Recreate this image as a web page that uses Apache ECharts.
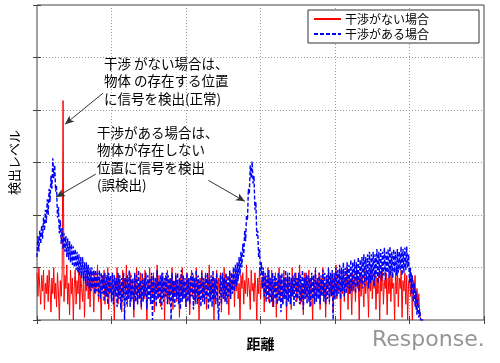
<!DOCTYPE html>
<html><head><meta charset="utf-8">
<script src="https://cdn.jsdelivr.net/npm/echarts@6/dist/echarts.min.js"></script>
<style>html,body{margin:0;padding:0;background:#fff}#c{width:500px;height:363px}</style>
</head><body><div id="c"></div>
<script>
// sample spacing along distance axis (grid units)
const step = 0.0125;
const seriesNames = ['干渉がない場合', '干渉がある場合'];
const noInterference = [
0.9,0.45,1.0,0.6,0.3,0.85,0.55,0.95,0.2,0.7,0.5,0.85,0.35,0.95,0.6,0.15,0.8,0.5,1.0,0.4,
0.7,0.25,0.9,0.55,0.0,0.75,0.45,0.9,4.18,0.35,0.85,0.6,1.05,0.3,0.7,0.1,0.95,0.5,0.8,0.0,
0.65,0.95,0.3,0.75,0.5,1.0,0.2,0.85,0.6,0.35,0.9,0.05,0.7,0.55,1.0,0.4,0.8,0.25,0.95,0.6,
0.75,0.15,0.9,0.5,0.7,1.05,0.35,0.8,0.55,0.0,0.85,0.6,0.95,0.3,0.7,0.45,1.0,0.2,0.8,0.65,
0.4,0.9,0.55,0.0,0.75,0.6,1.0,0.3,0.85,0.5,0.7,0.15,0.95,0.45,0.8,0.6,1.05,0.25,0.7,0.5,
0.9,0.35,0.75,0.6,0.05,0.85,0.5,1.0,0.3,0.7,0.55,0.9,0.2,0.8,0.65,0.4,0.95,0.55,0.0,0.75,
0.6,1.0,0.35,0.8,0.5,0.9,0.15,0.7,0.55,1.05,0.4,0.85,0.6,0.25,0.9,0.5,0.75,0.0,0.85,0.45,
0.95,0.6,0.3,0.8,0.55,1.0,0.2,0.75,0.5,0.9,0.35,0.7,0.6,0.05,0.85,0.5,1.0,0.4,0.75,0.6,
0.25,0.9,0.55,0.8,0.1,0.7,0.95,0.45,0.85,0.6,0.3,1.0,0.5,0.75,0.0,0.8,0.6,0.95,0.35,0.7,
0.55,0.9,0.2,0.8,0.6,1.05,0.4,0.7,0.5,0.85,0.0,0.75,0.6,0.95,0.3,0.8,0.5,0.9,0.15,0.7,
0.6,1.0,0.35,0.85,0.55,0.7,0.1,0.9,0.5,0.75,0.6,1.0,0.25,0.8,0.55,0.95,0.4,0.7,0.0,0.85,
0.6,0.9,0.3,0.75,0.5,1.05,0.45,0.8,0.6,0.2,0.95,0.55,0.7,0.35,0.9,0.6,0.0,0.8,0.5,1.0,
0.4,0.75,0.6,0.9,0.15,0.85,0.5,0.7,1.0,0.35,0.8,0.55,0.95,0.25,0.7,0.6,0.9,0.05,0.75,0.5,
1.0,0.4,0.85,0.6,0.3,0.95,0.55,0.75,0.0,0.9,0.5,0.8,0.65,0.2,1.0,0.45,0.7,0.6,0.9,0.35,
0.8,0.55,1.05,0.3,0.7,0.6,0.1,0.9,0.5,0.85,0.4,0.75,0.95,0.25,0.8,0.6,0.0,0.85,0.5,1.0,
0.35,0.75,0.6,0.9,0.2,0.8,0.55,1.0,0.45,0.7,0.05,0.85,0.6,0.95,0.3,0.75,0.5,0.9,0.15,0.8,
0.6,1.05,0.4,0.7,0.55,0.9,0.0,0.8,0.5,0.95,0.35,0.75,0.6,1.0,0.2,0.85,0.5,0.7,0.1,0.9,
0.55,0.8,0.35,1.0,0.6,0.75,0.0,0.9,0.45,0.85,0.6,0.25,0.95,0.5,0.8,0.65,0.05,0.9,0.55,1.0,
0.4,0.75,0.6,0.95,0.2,0.8,0.5,0.9,0.0,0.85,0.55,1.0,0.3,0.75,0.6,0.9,0.1,0.8,0.5,0.95,
0.35,0.85,0.6,0.7,0.0,0.9,0.5,1.0,0.25,0.8,0.6,0.95,0.05,0.75,0.55,0.9,0.3,0.85,0.0,0.7,
0.8,0.45,0.9,0.0,0.75,0.55,0.85,0.2,0.6,0.3,0.5,0.1,0.0,0.0,0.0,0.0,0.0
];
const withInterference = [
1.2,1.6,1.3,1.7,1.45,1.8,1.55,1.95,1.7,2.1,1.85,2.3,2.0,2.5,2.25,2.75,2.5,3.08,2.7,2.95,
2.45,2.55,1.95,2.15,1.65,1.9,1.45,1.75,1.35,1.65,1.3,1.6,1.2,1.55,1.15,1.5,1.1,1.45,1.05,1.4,
1.0,1.35,0.95,1.3,0.9,1.25,0.85,1.2,0.8,1.2,0.75,1.1,0.7,1.1,0.65,1.05,0.6,1.0,0.55,1.0,
0.6,0.95,0.5,0.95,0.55,0.9,0.45,0.95,0.4,0.9,0.5,0.85,0.35,0.9,0.45,0.85,0.3,0.9,0.5,0.85,
0.35,0.9,0.3,0.85,0.45,0.8,0.25,0.9,0.4,0.85,0.2,0.8,0.35,0.9,0.0,0.8,0.3,0.85,0.4,0.95,
0.25,0.85,0.4,0.8,0.2,0.9,0.35,0.85,0.3,0.95,0.4,0.75,0.25,0.9,0.35,0.8,0.45,0.9,0.2,0.85,
0.4,0.8,0.3,0.9,0.0,0.85,0.35,0.8,0.25,0.95,0.4,0.75,0.3,0.85,0.2,0.9,0.35,0.8,0.45,0.9,
0.3,0.85,0.4,0.8,0.0,0.9,0.35,0.75,0.25,0.85,0.4,0.9,0.3,0.8,0.2,0.95,0.35,0.85,0.4,0.8,
0.25,0.9,0.35,0.8,0.3,0.85,0.45,0.9,0.2,0.8,0.35,0.95,0.3,0.85,0.4,0.75,0.25,0.9,0.35,0.8,
0.3,0.85,0.4,0.9,0.2,0.8,0.35,0.85,0.25,0.95,0.4,0.8,0.3,0.9,0.35,0.0,0.45,0.85,0.3,0.9,
0.4,0.8,0.35,0.9,0.3,0.85,0.45,0.95,0.4,0.9,0.5,1.0,0.55,1.05,0.65,1.1,0.75,1.2,0.85,1.3,
1.0,1.45,1.2,1.7,1.5,2.0,1.9,2.5,2.4,2.95,2.7,3.02,2.6,2.75,2.1,2.25,1.6,1.7,1.2,1.35,
0.85,1.1,0.6,1.0,0.45,0.9,0.35,0.85,0.4,0.95,0.3,0.8,0.35,0.9,0.25,0.85,0.4,0.8,0.3,0.9,
0.35,0.85,0.15,0.9,0.3,0.8,0.4,0.95,0.25,0.85,0.35,0.9,0.3,0.8,0.45,0.85,0.25,0.9,0.35,0.8,
0.4,0.9,0.3,0.85,0.35,0.95,0.2,0.8,0.4,0.9,0.3,0.85,0.35,0.8,0.25,0.9,0.4,0.85,0.3,0.95,
0.35,0.8,0.4,0.9,0.3,0.85,0.45,0.95,0.35,0.9,0.3,0.85,0.4,1.0,0.35,0.9,0.45,0.95,0.0,0.9,
0.4,1.0,0.45,0.95,0.5,1.05,0.4,1.0,0.55,1.1,0.45,1.0,0.5,1.1,0.6,1.05,0.5,1.15,0.55,1.1,
0.6,1.15,0.5,1.1,0.65,1.2,0.55,1.15,0.7,1.2,0.6,1.25,0.65,1.2,0.75,1.25,0.6,1.3,0.7,1.25,
0.75,1.3,0.65,1.25,0.8,1.35,0.7,1.3,0.8,1.35,0.75,1.3,0.85,1.38,0.75,1.3,0.9,1.35,0.8,1.4,
0.85,1.3,0.8,1.35,0.9,1.3,0.85,1.35,0.9,1.3,0.95,1.4,0.85,1.35,0.9,1.38,0.95,1.4,1.0,1.25,
0.7,1.0,0.5,0.85,0.35,0.7,0.25,0.55,0.1,0.4,0.05,0.2,0.0,0.0,0.0,0.0,0.0
];
const note1 = ['干渉 がない場合は、', '物体 の存在する位置', 'に信号を検出(正常)'];
const note2 = ['干渉がある場合は、', '物体が存在しない', '位置に信号を検出', '(誤検出)'];

const toPairs = arr => arr.map((v, i) => [+(i * step).toFixed(4), v]);
const FONT = '"Noto Sans CJK JP", sans-serif';
const chart = echarts.init(document.getElementById('c'), null, {renderer: 'canvas'});
const axisCommon = {
  type: 'value', min: 0, max: 6, interval: 1,
  axisLine: {show: false},
  axisTick: {show: true, inside: true, length: 4, lineStyle: {color: '#444'}},
  axisLabel: {show: false},
};
chart.setOption({
  animation: false,
  backgroundColor: '#fff',
  grid: {left: 37, right: 16, top: 5, bottom: 43, show: true, borderColor: '#444', borderWidth: 1, backgroundColor: 'transparent'},
  legend: {
    data: seriesNames, orient: 'vertical', left: 308, top: 10,
    itemWidth: 27, itemHeight: 10, itemGap: 3,
    padding: [3, 50, 3, 5],
    backgroundColor: '#fff', borderColor: '#333', borderWidth: 1,
    itemStyle: {opacity: 0},
    textStyle: {fontFamily: FONT, fontSize: 12, color: '#000', padding: [0, 0, 0, -1]}
  },
  xAxis: [
    Object.assign({}, axisCommon, {
      position: 'bottom',
      name: '距離', nameLocation: 'middle', nameGap: 17,
      nameTextStyle: {fontFamily: FONT, fontSize: 14, fontWeight: 'bold', color: '#000'},
      splitLine: {show: true, lineStyle: {color: '#999', type: [1, 2], width: 1}}
    }),
    Object.assign({}, axisCommon, {position: 'top', splitLine: {show: false}})
  ],
  yAxis: [
    Object.assign({}, axisCommon, {
      position: 'left',
      name: '検出レベル', nameLocation: 'middle', nameGap: 16,
      nameTextStyle: {fontFamily: FONT, fontSize: 13, color: '#000'},
      splitLine: {show: true, lineStyle: {color: '#999', type: [1, 2], width: 1}}
    }),
    Object.assign({}, axisCommon, {position: 'right', splitLine: {show: false}})
  ],
  series: [
    {
      name: seriesNames[0], type: 'line', data: toPairs(noInterference),
      symbol: 'none', color: '#ff0000',
      lineStyle: {color: '#ff0000', width: 1}, z: 2
    },
    {
      name: seriesNames[1], type: 'line', data: toPairs(withInterference),
      symbol: 'none', color: '#0000ff',
      lineStyle: {color: '#0000ff', width: 1.4, type: [4, 2]}, z: 3
    },
    {
      type: 'line', data: [], silent: true, z: 5,
      markLine: {
        silent: true, symbol: ['none', 'arrow'], symbolSize: [6, 9],
        label: {show: false},
        lineStyle: {color: '#333', width: 1, type: 'solid'},
        data: [
          [{coord: [0.886, 4.32]}, {coord: [0.376, 3.73]}],
          [{coord: [0.79, 2.78]}, {coord: [0.255, 2.34]}],
          [{coord: [2.30, 2.66]}, {coord: [2.79, 2.26]}]
        ]
      }
    }
  ],
  graphic: [
    {type: 'text', left: 104, top: 55, z: 10, style: {text: note1.join('\n'), font: '13.5px ' + FONT, lineHeight: 17.5, fill: '#000'}},
    {type: 'text', left: 97, top: 124, z: 10, style: {text: note2.join('\n'), font: '13.5px ' + FONT, lineHeight: 17.5, fill: '#000'}},
    {type: 'text', left: 372, top: 329, z: 10, style: {text: 'Response.', font: '22px "DejaVu Sans", sans-serif', fill: '#959595'}}
  ]
});
</script></body></html>
